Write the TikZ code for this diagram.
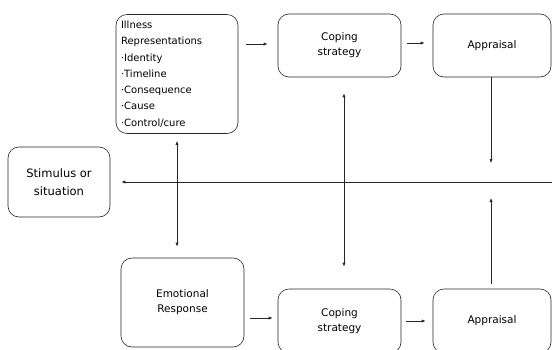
\documentclass[tikz,border=0pt]{standalone}
\usepackage{fontspec}
\setmainfont{DejaVu Sans}
\usetikzlibrary{arrows.meta}
\begin{document}
\begin{tikzpicture}[x=1pt,y=-1pt,
  box/.style={draw=black!85,line width=0.6pt,rounded corners=11pt,inner sep=0pt,align=center,
    font=\fontsize{10.5}{15}\selectfont},
  conn/.style={draw=black!85,line width=0.7pt,-{Latex[length=4pt,width=3.2pt]}},
  dconn/.style={draw=black!85,line width=0.7pt,{Latex[length=4pt,width=3.2pt]}-{Latex[length=4pt,width=3.2pt]}}]
\useasboundingbox (0,0) rectangle (552,349);
\begin{scope}
\clip (0,0) rectangle (552,349);
\node[box,minimum width=122pt,minimum height=119pt,text width=112pt,align=left,
  font=\fontsize{10}{16.3}\selectfont] (ill) at (177,74)
  {Illness\\Representations\\·Identity\\·Timeline\\·Consequence\\·Cause\\·Control/cure};
\node[box,minimum width=123pt,minimum height=63pt] (cop1) at (339.5,45.5) {Coping\\strategy};
\node[box,minimum width=118pt,minimum height=63pt] (app1) at (492,45.5) {Appraisal};
\node[box,minimum width=102pt,minimum height=70pt,font=\fontsize{11.5}{18}\selectfont] (stim) at (59,182) {Stimulus or\\situation};
\node[box,minimum width=123pt,minimum height=89pt] (emo) at (182.5,302.5) {Emotional\\Response};
\node[box,minimum width=123pt,minimum height=64pt] (cop2) at (339.5,321) {Coping\\strategy};
\node[box,minimum width=118pt,minimum height=64pt] (app2) at (492,321) {Appraisal};
\end{scope}
\coordinate (rend) at (552,182);
\coordinate (mid) at (491,182);
\draw[conn,shorten <=8pt,shorten >=10pt] (ill.east |- 0,44) -- (cop1.west |- 0,44);
\draw[conn,shorten <=6pt,shorten >=8pt] (cop1.east |- 0,43) -- (app1.west |- 0,43);
\draw[conn,shorten >=19pt] (app1.south -| mid) -- (mid);
\draw[conn,shorten <=5pt,shorten >=16pt] (app2.north -| mid) -- (mid);
\draw[conn,shorten >=11pt] (rend) -- (stim.east);
\draw[dconn,shorten <=7pt,shorten >=11pt] (ill.south) -- (ill.south |- emo.north);
\draw[dconn,shorten <=16pt,shorten >=22pt] ([xshift=4.5pt]cop1.south) -- ([xshift=4.5pt]cop2.north);
\draw[conn,shorten <=6pt,shorten >=5pt] (emo.east |- 0,318) -- (cop2.west |- 0,318);
\draw[conn,shorten <=5pt,shorten >=7pt] (cop2.east |- 0,321) -- (app2.west |- 0,321);
\end{tikzpicture}
\end{document}
